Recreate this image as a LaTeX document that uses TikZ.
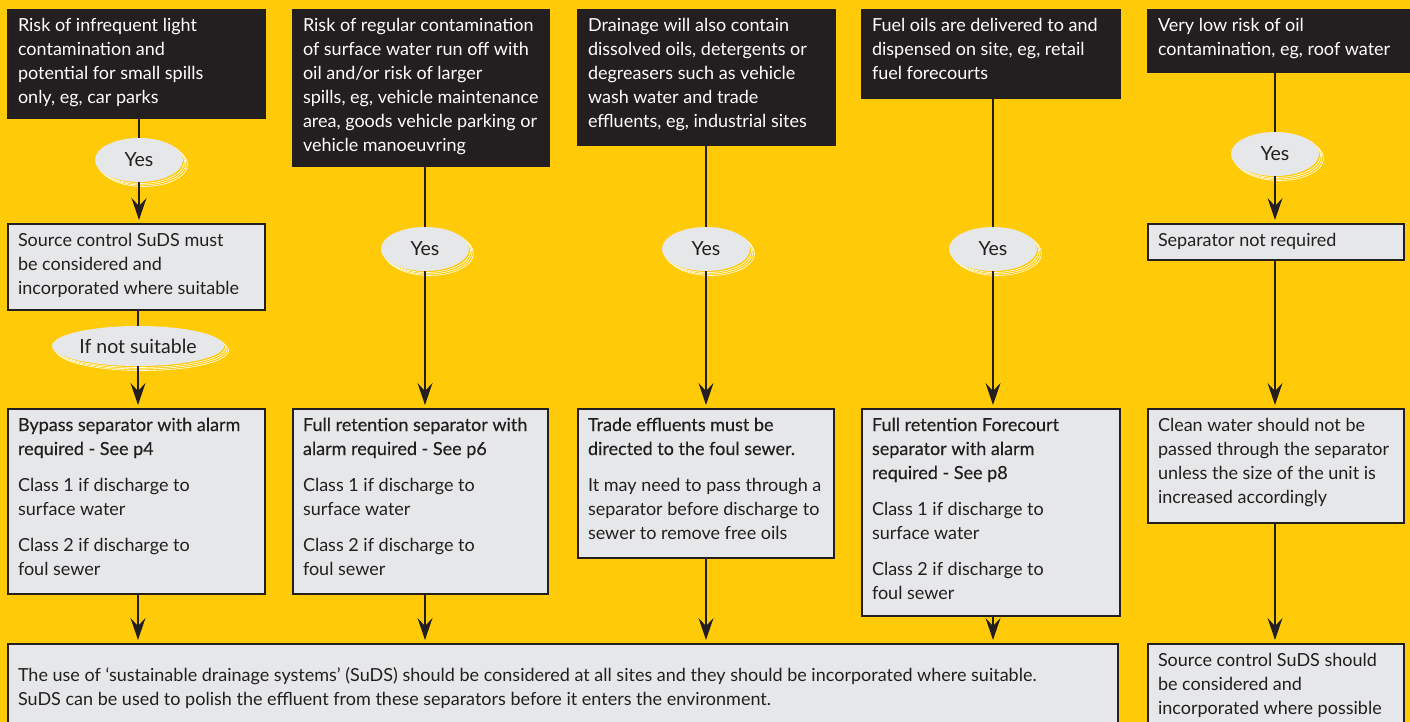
\documentclass[tikz,border=0pt]{standalone}
\usepackage{fontspec}
\setmainfont{Lato}
\newfontfamily\medfont[FakeBold=0.3]{Lato}
\usetikzlibrary{shapes.geometric,arrows.meta,calc}
\definecolor{ybg}{HTML}{FFCB08}
\definecolor{dk}{HTML}{231F20}
\definecolor{lg}{HTML}{E6E7E8}
\newcommand{\btx}[4]{\parbox[t][#2pt][t]{#1pt}{\raggedright\rule{0pt}{#4pt}#3}}
\newcommand{\bt}[3]{\btx{#1}{#2}{#3}{22}}
\newcommand{\echo}[4]{%
  \foreach \d in {4.5,3,1.5}{\draw[white,line width=0.6pt,fill=ybg] ($(#1,#2)+(\d,\d)$) ellipse [x radius=#3/2, y radius=#4/2];}}
\begin{document}
\begin{tikzpicture}[x=1pt,y=-1pt,
  box/.style={draw=dk,line width=1.2pt,fill=lg,text=dk,inner xsep=10pt,inner ysep=0pt,
    anchor=north west,outer sep=0pt,font=\fontsize{18}{24}\selectfont},
  blk/.style={box,fill=dk,draw=dk,text=white},
  yes/.style={ellipse,fill=lg,text=dk,inner sep=0pt,minimum width=88pt,minimum height=44pt,
    font=\fontsize{19.5}{20}\selectfont},
  conn/.style={draw=dk,line width=1.3pt},
  arr/.style={conn,-{Stealth[length=22pt,width=15pt,inset=8pt]},shorten >=4pt}]
\useasboundingbox (0,0) rectangle (1410,722);
\fill[ybg] (0,0) rectangle (1410,722);

% top black boxes
\node[blk] (b1) at (8,10) {\bt{237}{108}{Risk of infrequent light\\contamination and\\potential for small spills\\only, eg, car parks}};
\node[blk] (b2) at (293,10) {\bt{236}{156}{Risk of regular contamination\\of surface water run off with\\oil and/or risk of larger\\\mbox{spills, eg, vehicle maintenance}\\area, goods vehicle parking or\\vehicle manoeuvring}};
\node[blk] (b3) at (578,10) {\bt{237}{135}{Drainage will also contain\\dissolved oils, detergents or\\degreasers such as vehicle\\wash water and trade\\effluents, eg, industrial sites}};
\node[blk] (b4) at (862,10) {\bt{238}{88}{Fuel oils are delivered to and\\dispensed on site, eg, retail\\fuel forecourts}};
\node[blk] (b5) at (1148,10) {\bt{252}{62}{Very low risk of oil\\contamination, eg, roof water}};

% ellipses
\echo{139}{160}{88}{44}
\node[yes] (y1) at (139,160) {Yes};
\echo{138}{346}{172}{40}
\node[yes,minimum width=172pt,minimum height=40pt] (ns) at (138,346) {If not suitable};
\echo{425}{249}{88}{44}
\node[yes] (y2) at (425,249) {Yes};
\echo{706}{249}{88}{44}
\node[yes] (y3) at (706,249) {Yes};
\echo{993}{249}{88}{44}
\node[yes] (y4) at (993,249) {Yes};
\echo{1275}{154}{88}{44}
\node[yes] (y5) at (1275,154) {Yes};

% grey boxes
\node[box] (s1) at (8,224) {\bt{237}{86}{Source control SuDS must\\be considered and\\incorporated where suitable}};
\node[box] (s5) at (1148,224) {\bt{236}{36}{Separator not required}};

\node[box] (r1) at (8,409) {\bt{237}{185}{{\medfont Bypass separator with alarm\\required - See p4}\\[12pt]Class 1 if discharge to\\surface water\\[12pt]Class 2 if discharge to\\foul sewer}};
\node[box] (r2) at (293,409) {\bt{235}{185}{{\medfont Full retention separator with\\alarm required - See p6}\\[12pt]Class 1 if discharge to\\surface water\\[12pt]Class 2 if discharge to\\foul sewer}};
\node[box] (r3) at (578,409) {\bt{236}{149}{{\medfont Trade effluents must be\\directed to the foul sewer.}\\[12pt]It may need to pass through a\\separator before discharge to\\sewer to remove free oils}};
\node[box] (r4) at (862,409) {\bt{238}{207}{{\medfont Full retention Forecourt\\separator with alarm\\required - See p8}\\[12pt]Class 1 if discharge to\\surface water\\[12pt]Class 2 if discharge to\\foul sewer}};
\node[box] (r5) at (1148,409) {\bt{236}{114}{Clean water should not be\\passed through the separator\\unless the size of the unit is\\increased accordingly}};

\node[box] (bot) at (8,644) {\btx{1090}{90}{The use of ‘sustainable drainage systems’ (SuDS) should be considered at all sites and they should be incorporated where suitable.\\SuDS can be used to polish the effluent from these separators before it enters the environment.}{37}};
\node[box] (bot5) at (1148,644) {\bt{236}{90}{Source control SuDS should\\be considered and\\incorporated where possible}};

% connectors
\draw[conn] (b1.south -| y1) -- (y1.north);
\draw[arr] (y1.south) -- (s1.north -| y1);
\draw[conn] (s1.south -| ns) -- (ns.north);
\draw[arr] (ns.south) -- (r1.north -| ns);
\draw[arr] (r1.south -| ns) -- (bot.north -| ns);

\draw[conn] (b2.south -| y2) -- (y2.north);
\draw[arr] (y2.south) -- (r2.north -| y2);
\draw[arr] (r2.south -| y2) -- (bot.north -| y2);

\draw[conn] (b3.south -| y3) -- (y3.north);
\draw[arr] (y3.south) -- (r3.north -| y3);
\draw[arr] (r3.south -| y3) -- (bot.north -| y3);

\draw[conn] (b4.south -| y4) -- (y4.north);
\draw[arr] (y4.south) -- (r4.north -| y4);
\draw[arr] (r4.south -| y4) -- (bot.north -| y4);

\draw[conn] (b5.south -| y5) -- (y5.north);
\draw[arr] (y5.south) -- (s5.north -| y5);
\draw[arr] (s5.south -| y5) -- (r5.north -| y5);
\draw[arr] (r5.south -| y5) -- (bot5.north -| y5);
\end{tikzpicture}
\end{document}
